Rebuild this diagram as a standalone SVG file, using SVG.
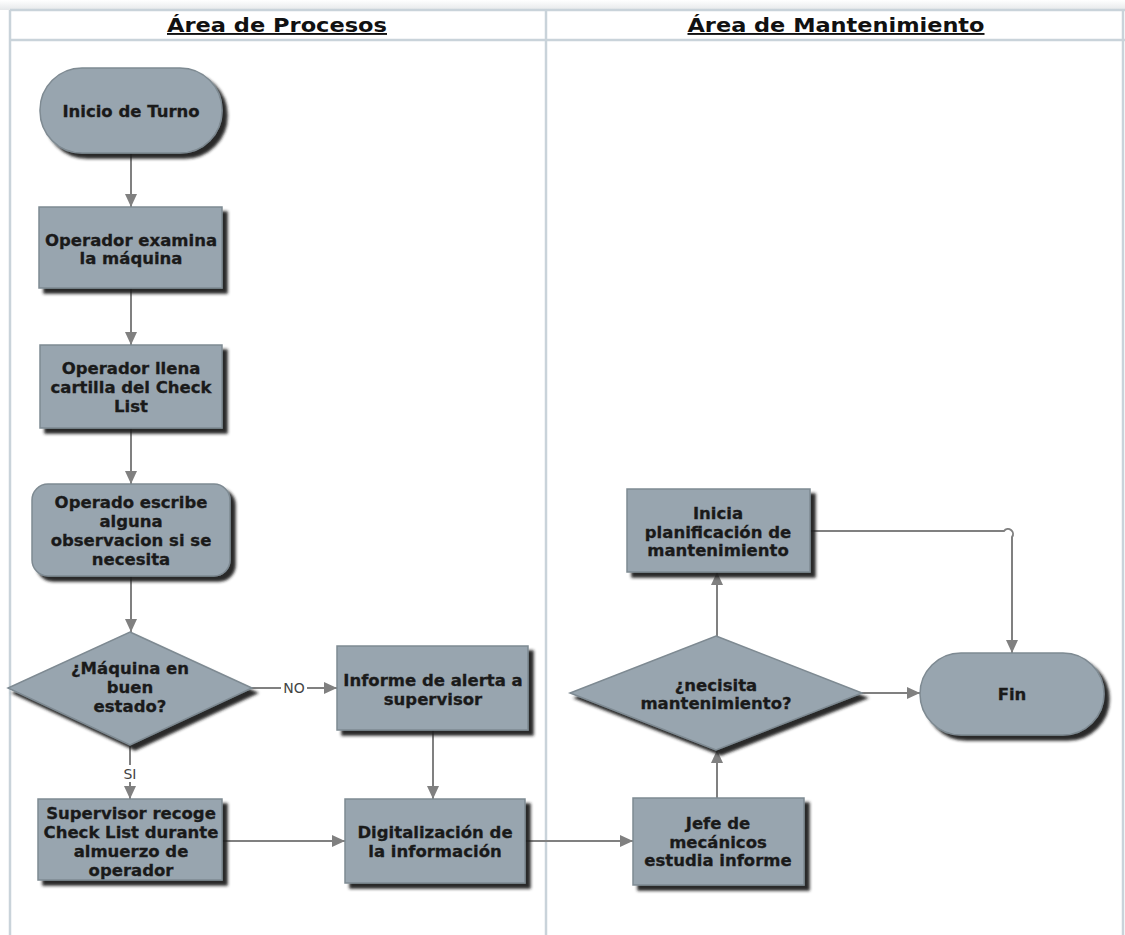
<svg xmlns="http://www.w3.org/2000/svg" width="1125" height="935" viewBox="0 0 1125 935">
<defs>
<linearGradient id="topband" x1="0" y1="0" x2="0" y2="1">
<stop offset="0" stop-color="#ffffff"/>
<stop offset="1" stop-color="#e6e8ea"/>
</linearGradient>
<filter id="sh" x="-10%" y="-10%" width="125%" height="130%">
<feDropShadow dx="5" dy="5" stdDeviation="1.8" flood-color="#1e1e1e" flood-opacity="0.95"/>
</filter>
<marker id="ah" markerUnits="userSpaceOnUse" markerWidth="14" markerHeight="12" refX="13" refY="6" orient="auto">
<path d="M0,0 L13,6 L0,12 Z" fill="#808080"/>
</marker>
<style>
.lane{stroke:#c9d3da;stroke-width:2.5;fill:none}
.hdr{font-family:"DejaVu Sans Condensed","Liberation Sans Narrow","Liberation Sans",sans-serif;font-weight:bold;font-size:19px;fill:#111;text-anchor:middle;text-decoration:underline}
.box{fill:#98a5af;stroke:#7e8a92;stroke-width:1.5;filter:url(#sh)}
.t{font-family:"DejaVu Sans",Verdana,sans-serif;font-weight:bold;font-size:16.5px;fill:#1a1a1a;stroke:#1a1a1a;stroke-width:0.3;text-anchor:middle;dominant-baseline:central}
.c{stroke:#808080;stroke-width:2;fill:none}
.ca{stroke:#808080;stroke-width:2;fill:none;marker-end:url(#ah)}
.lbl{font-family:"DejaVu Sans",sans-serif;font-size:14px;fill:#444;text-anchor:middle;dominant-baseline:central}
</style>
</defs>
<rect x="0" y="0" width="1125" height="935" fill="#ffffff"/>
<rect x="0" y="0" width="1125" height="10" fill="url(#topband)"/>
<g id="lanes">
<line class="lane" x1="10" y1="10" x2="1125" y2="10"/>
<line class="lane" x1="10" y1="40" x2="1125" y2="40"/>
<line class="lane" x1="10" y1="10" x2="10" y2="935"/>
<line class="lane" x1="546" y1="10" x2="546" y2="935"/>
<line class="lane" x1="1123" y1="10" x2="1123" y2="935"/>
<text class="hdr" x="277" y="32" textLength="220" lengthAdjust="spacingAndGlyphs">Área de Procesos</text>
<text class="hdr" x="836" y="32" textLength="297" lengthAdjust="spacingAndGlyphs">Área de Mantenimiento</text>
</g>
<g id="connectors">
<line class="ca" x1="131" y1="153" x2="131" y2="207"/>
<line class="ca" x1="131" y1="288" x2="131" y2="345"/>
<line class="ca" x1="131" y1="428" x2="131" y2="484"/>
<line class="ca" x1="131" y1="576" x2="131" y2="632"/>
<line class="c" x1="252" y1="688" x2="281" y2="688"/>
<line class="ca" x1="307" y1="688" x2="337" y2="688"/>
<text class="lbl" x="294" y="688">NO</text>
<line class="c" x1="130" y1="745" x2="130" y2="765"/>
<line class="ca" x1="130" y1="782" x2="130" y2="799"/>
<text class="lbl" x="130" y="774">SI</text>
<line class="ca" x1="433" y1="730" x2="433" y2="799"/>
<line class="ca" x1="222" y1="841" x2="345" y2="841"/>
<line class="ca" x1="525" y1="841" x2="633" y2="841"/>
<line class="ca" x1="717" y1="798" x2="717" y2="750"/>
<line class="ca" x1="717" y1="636" x2="717" y2="572"/>
<line class="ca" x1="862" y1="693" x2="920" y2="693"/>
<path class="ca" d="M810,531 L1004,531 A5,5 0 0 1 1012,537 L1012,653"/>
</g>
<g id="inicio">
<rect class="box" x="40" y="68" width="182" height="85" rx="42" ry="42"/>
<text class="t" x="131" y="111">Inicio de Turno</text>
</g>
<g id="examina">
<rect class="box" x="39" y="207" width="183" height="81"/>
<text class="t" x="131" y="240">Operador examina</text>
<text class="t" x="131" y="258">la máquina</text>
</g>
<g id="llena">
<rect class="box" x="40" y="345" width="182" height="83"/>
<text class="t" x="131" y="368">Operador llena</text>
<text class="t" x="131" y="387">cartilla del Check</text>
<text class="t" x="131" y="406">List</text>
</g>
<g id="observacion">
<rect class="box" x="32" y="484" width="198" height="92" rx="16" ry="16"/>
<text class="t" x="131" y="502">Operado escribe</text>
<text class="t" x="131" y="521">alguna</text>
<text class="t" x="131" y="540">observacion si se</text>
<text class="t" x="131" y="559">necesita</text>
</g>
<g id="maquina">
<polygon class="box" points="130,632 252,688 130,745 8,688"/>
<text class="t" x="130" y="668">¿Máquina en</text>
<text class="t" x="130" y="687">buen</text>
<text class="t" x="130" y="706">estado?</text>
</g>
<g id="informe">
<rect class="box" x="337" y="646" width="191" height="84"/>
<text class="t" x="433" y="680">Informe de alerta a</text>
<text class="t" x="433" y="699">supervisor</text>
</g>
<g id="supervisor">
<rect class="box" x="38" y="799" width="184" height="81"/>
<text class="t" x="131" y="813">Supervisor recoge</text>
<text class="t" x="131" y="832">Check List durante</text>
<text class="t" x="131" y="851">almuerzo de</text>
<text class="t" x="131" y="870">operador</text>
</g>
<g id="digitalizacion">
<rect class="box" x="345" y="799" width="180" height="84"/>
<text class="t" x="435" y="832">Digitalización de</text>
<text class="t" x="435" y="851">la información</text>
</g>
<g id="jefe">
<rect class="box" x="633" y="798" width="171" height="87"/>
<text class="t" x="718" y="823">Jefe de</text>
<text class="t" x="718" y="842">mecánicos</text>
<text class="t" x="718" y="860">estudia informe</text>
</g>
<g id="necesita">
<polygon class="box" points="716,636 862,693 716,750 570,693"/>
<text class="t" x="716" y="685">¿necisita</text>
<text class="t" x="716" y="703">mantenimiento?</text>
</g>
<g id="inicia">
<rect class="box" x="627" y="489" width="183" height="83"/>
<text class="t" x="718" y="513">Inicia</text>
<text class="t" x="718" y="532">planificación de</text>
<text class="t" x="718" y="550">mantenimiento</text>
</g>
<g id="fin">
<rect class="box" x="920" y="653" width="184" height="82" rx="41" ry="41"/>
<text class="t" x="1012" y="694">Fin</text>
</g>
</svg>
